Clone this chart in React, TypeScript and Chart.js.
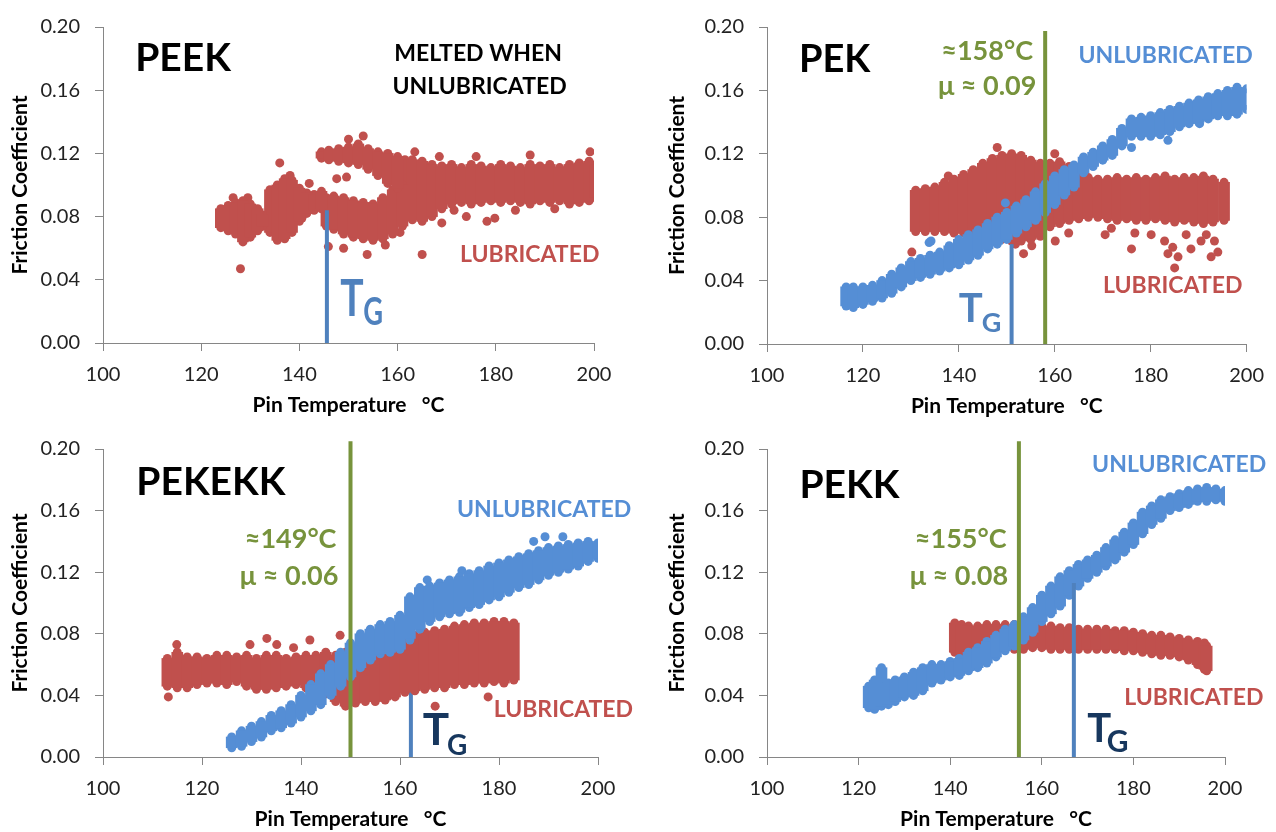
import React, { useEffect, useRef } from 'react';
import { Chart, registerables } from 'chart.js';

Chart.register(...registerables);

type Col = [number, number, number]; // x, lower edge, upper edge of a dense point cloud column
type Pt = [number, number];

// ---------- axes ----------
const xTickValues = [100, 120, 140, 160, 180, 200];
const yTickLabels = ['0.00', '0.04', '0.08', '0.12', '0.16', '0.20'];
const xAxisTitle = 'Pin Temperature   °C';
const yAxisTitle = 'Friction Coefficient';

// ---------- PEEK (lubricated only) ----------
const peekLubA: Col[] = [
  [124.0, 0.073, 0.085], [125.5, 0.071, 0.087], [127.0, 0.069, 0.089], [128.5, 0.064, 0.090],
  [130.0, 0.067, 0.088], [131.5, 0.071, 0.085], [132.5, 0.074, 0.081],
];
const peekLubB: Col[] = [
  [134.0, 0.070, 0.097], [135.5, 0.065, 0.100], [137.0, 0.066, 0.104], [138.5, 0.070, 0.103],
  [140.0, 0.077, 0.098], [141.5, 0.082, 0.095], [143.0, 0.084, 0.094], [144.5, 0.085, 0.096],
];
const peekLubC: Col[] = [
  [144.5, 0.117, 0.121], [146.0, 0.116, 0.122], [148.0, 0.115, 0.123], [150.0, 0.114, 0.124],
  [152.0, 0.113, 0.126], [154.0, 0.110, 0.123], [156.0, 0.106, 0.121], [158.0, 0.101, 0.120],
  [160.0, 0.098, 0.118],
];
const peekLubD: Col[] = [
  [145.5, 0.074, 0.092], [147.0, 0.072, 0.093], [149.0, 0.069, 0.092], [151.0, 0.067, 0.090],
  [153.0, 0.066, 0.089], [155.0, 0.065, 0.088], [157.0, 0.066, 0.092], [159.0, 0.069, 0.097],
  [161.0, 0.074, 0.100],
];
const peekLubE: Col[] = [
  [161.5, 0.082, 0.116], [163.0, 0.078, 0.116], [165.0, 0.077, 0.115], [167.0, 0.080, 0.113],
  [169.0, 0.085, 0.112], [171.0, 0.088, 0.113], [173.0, 0.089, 0.111], [175.0, 0.088, 0.113],
  [177.0, 0.089, 0.112], [179.0, 0.090, 0.111], [181.0, 0.089, 0.113], [183.0, 0.090, 0.112],
  [185.0, 0.089, 0.111], [187.0, 0.088, 0.113], [189.0, 0.090, 0.112], [191.0, 0.089, 0.113],
  [193.0, 0.090, 0.111], [195.0, 0.088, 0.113], [197.0, 0.089, 0.114], [199.0, 0.090, 0.115],
  [200.3, 0.092, 0.113],
];
const peekLubDots: Pt[] = [
  [128.0, 0.047], [136.0, 0.114], [138.1, 0.106], [150.0, 0.129], [153.0, 0.131], [145.9, 0.061],
  [149.0, 0.060], [153.8, 0.056], [165.0, 0.056], [169.0, 0.076], [174.0, 0.080], [178.2, 0.077],
  [179.8, 0.079], [176.0, 0.118], [187.0, 0.119], [199.2, 0.121], [147.6, 0.104], [149.6, 0.105],
  [126.5, 0.092], [129.5, 0.092], [140.5, 0.079], [142.0, 0.101], [157.5, 0.062], [160.5, 0.070],
  [171.5, 0.084], [184.0, 0.084], [192.0, 0.085], [163.5, 0.121], [168.5, 0.118],
];
const peekTgLine: Pt[] = [[145.6, 0], [145.6, 0.084]];

// ---------- PEK ----------
const pekLub: Col[] = [
  [131, 0.071, 0.097], [133, 0.071, 0.098], [135, 0.071, 0.099], [137, 0.071, 0.102],
  [139, 0.070, 0.104], [141, 0.070, 0.107], [143, 0.070, 0.110], [145, 0.069, 0.114],
  [147, 0.068, 0.117], [149, 0.066, 0.119], [151, 0.065, 0.120], [153, 0.065, 0.119],
  [155, 0.066, 0.116], [157, 0.068, 0.114], [159, 0.074, 0.114], [161, 0.076, 0.115],
  [163, 0.078, 0.112], [165, 0.079, 0.108], [167, 0.080, 0.105], [169, 0.080, 0.104],
  [171, 0.079, 0.104], [173, 0.078, 0.105], [175, 0.079, 0.104], [177, 0.078, 0.105],
  [179, 0.078, 0.104], [181, 0.079, 0.105], [183, 0.078, 0.106], [185, 0.077, 0.104],
  [187, 0.078, 0.105], [189, 0.077, 0.105], [191, 0.076, 0.106], [193, 0.077, 0.104],
  [195.3, 0.078, 0.102],
];
const pekLubDots: Pt[] = [
  [151.8, 0.063], [155.2, 0.062], [153.5, 0.057], [160.1, 0.065], [162.9, 0.070], [170.5, 0.069],
  [171.8, 0.073], [176.0, 0.060], [176.7, 0.070], [180.1, 0.069], [182.9, 0.065], [183.6, 0.057],
  [184.6, 0.061], [185.0, 0.048], [185.7, 0.055], [187.4, 0.069], [188.4, 0.060], [190.5, 0.065],
  [191.6, 0.069], [192.6, 0.055], [193.3, 0.065], [194.0, 0.058], [130.2, 0.058], [137.8, 0.106],
  [148.0, 0.124], [160.0, 0.120],
];
const pekUnlub: Col[] = [
  [116.5, 0.024, 0.036], [118, 0.023, 0.036], [120, 0.025, 0.036], [122, 0.027, 0.037],
  [124, 0.029, 0.040], [126, 0.032, 0.044], [128, 0.036, 0.048], [130, 0.040, 0.052],
  [132, 0.042, 0.054], [134, 0.044, 0.056], [136, 0.046, 0.058], [138, 0.048, 0.062],
  [140, 0.050, 0.066], [142, 0.053, 0.069], [144, 0.056, 0.072], [146, 0.060, 0.076],
  [148, 0.063, 0.080], [150, 0.066, 0.083], [152, 0.070, 0.087], [154, 0.074, 0.091],
  [156, 0.078, 0.096], [158, 0.083, 0.101], [160, 0.088, 0.106], [162, 0.094, 0.110],
  [164, 0.099, 0.113], [166, 0.108, 0.118], [168, 0.112, 0.121], [170, 0.116, 0.125],
  [172, 0.119, 0.129], [174, 0.125, 0.136], [176, 0.131, 0.142], [178, 0.131, 0.143],
  [180, 0.131, 0.144], [182, 0.132, 0.146], [184, 0.134, 0.148], [186, 0.137, 0.150],
  [188, 0.139, 0.152], [190, 0.140, 0.154], [192, 0.142, 0.156], [194, 0.144, 0.158],
  [196, 0.144, 0.160], [198, 0.145, 0.162], [200, 0.148, 0.161],
];
const pekUnlubDots: Pt[] = [
  [133.8, 0.064], [134.2, 0.065], [149.7, 0.089], [176.0, 0.124], [183.6, 0.1285], [190.2, 0.139],
];
const pekTgLine: Pt[] = [[151, 0], [151, 0.063]];
const pekGreenLine: Pt[] = [[158, 0], [158, 0.1975]];

// ---------- PEKEKK ----------
const pekekkLub: Col[] = [
  [113, 0.046, 0.064], [115, 0.045, 0.068], [117, 0.045, 0.065], [119, 0.047, 0.065],
  [121, 0.048, 0.064], [123, 0.048, 0.066], [125, 0.047, 0.066], [127, 0.049, 0.065],
  [129, 0.046, 0.066], [131, 0.044, 0.064], [133, 0.044, 0.066], [135, 0.045, 0.066],
  [137, 0.046, 0.064], [139, 0.047, 0.065], [141, 0.045, 0.066], [143, 0.044, 0.066],
  [145, 0.041, 0.068], [147, 0.036, 0.066], [149, 0.033, 0.068], [151, 0.035, 0.066],
  [153, 0.036, 0.066], [155, 0.036, 0.067], [157, 0.037, 0.070], [159, 0.039, 0.071],
  [161, 0.042, 0.074], [163, 0.043, 0.079], [165, 0.044, 0.081], [167, 0.045, 0.082],
  [169, 0.045, 0.083], [171, 0.047, 0.085], [173, 0.047, 0.086], [175, 0.048, 0.087],
  [177, 0.048, 0.087], [179, 0.049, 0.088], [181, 0.048, 0.088], [183, 0.050, 0.087],
];
const pekekkLubDots: Pt[] = [
  [113.2, 0.039], [114.9, 0.073], [129.7, 0.073], [133.1, 0.077], [135.1, 0.073], [141.8, 0.076],
  [147.9, 0.079], [167.1, 0.033], [177.8, 0.039], [138.5, 0.071], [157.0, 0.082],
];
const pekekkUnlub: Col[] = [
  [126, 0.006, 0.013], [128, 0.007, 0.017], [130, 0.010, 0.020], [132, 0.013, 0.023],
  [134, 0.017, 0.027], [136, 0.019, 0.030], [138, 0.022, 0.034], [140, 0.026, 0.040],
  [142, 0.030, 0.047], [144, 0.034, 0.054], [146, 0.040, 0.060], [148, 0.046, 0.068],
  [150, 0.052, 0.074], [152, 0.058, 0.080], [154, 0.063, 0.083], [156, 0.067, 0.086],
  [158, 0.068, 0.088], [160, 0.070, 0.092], [162, 0.077, 0.104], [164, 0.083, 0.110],
  [166, 0.088, 0.111], [168, 0.091, 0.113], [170, 0.093, 0.115], [172, 0.094, 0.117],
  [174, 0.097, 0.119], [176, 0.099, 0.121], [178, 0.102, 0.124], [180, 0.104, 0.126],
  [182, 0.107, 0.128], [184, 0.110, 0.130], [186, 0.112, 0.132], [188, 0.115, 0.134],
  [190, 0.118, 0.136], [192, 0.120, 0.137], [194, 0.122, 0.138], [196, 0.124, 0.139],
  [198, 0.127, 0.140], [200, 0.129, 0.139],
];
const pekekkUnlubDots: Pt[] = [
  [162.0, 0.076], [189.3, 0.143], [192.9, 0.143], [187.0, 0.140], [172.5, 0.121], [165.5, 0.115],
];
const pekekkTgLine: Pt[] = [[162.2, 0], [162.2, 0.09]];
const pekekkGreenLine: Pt[] = [[150, 0], [150, 0.205]];

// ---------- PEKK ----------
const pekkLub: Col[] = [
  [141, 0.068, 0.087], [142.5, 0.065, 0.086], [144, 0.070, 0.085], [146, 0.071, 0.085],
  [148, 0.071, 0.086], [150, 0.071, 0.086], [152, 0.071, 0.086], [154, 0.070, 0.086],
  [156, 0.070, 0.085], [158, 0.071, 0.085], [160, 0.071, 0.085], [162, 0.070, 0.085],
  [164, 0.070, 0.084], [166, 0.070, 0.084], [168, 0.070, 0.083], [170, 0.070, 0.083],
  [172, 0.070, 0.083], [174, 0.070, 0.083], [176, 0.070, 0.082], [178, 0.069, 0.082],
  [180, 0.069, 0.081], [182, 0.068, 0.080], [184, 0.067, 0.079], [186, 0.066, 0.079],
  [188, 0.066, 0.078], [190, 0.065, 0.077], [192, 0.063, 0.076], [194, 0.060, 0.075],
  [195.5, 0.057, 0.074], [196, 0.056, 0.072],
];
const pekkUnlub: Col[] = [
  [122.2, 0.032, 0.046], [123.5, 0.031, 0.050], [125, 0.033, 0.058], [126.5, 0.034, 0.048],
  [128, 0.036, 0.050], [130, 0.039, 0.052], [132, 0.040, 0.055], [134, 0.043, 0.058],
  [136, 0.048, 0.060], [138, 0.050, 0.060], [140, 0.052, 0.062], [142, 0.053, 0.064],
  [144, 0.056, 0.068], [146, 0.058, 0.071], [148, 0.061, 0.075], [150, 0.065, 0.079],
  [152, 0.069, 0.083], [154, 0.072, 0.086], [156, 0.076, 0.091], [158, 0.081, 0.097],
  [160, 0.088, 0.105], [162, 0.093, 0.111], [164, 0.098, 0.117], [166, 0.105, 0.121],
  [168, 0.111, 0.125], [170, 0.116, 0.128], [172, 0.120, 0.131], [174, 0.124, 0.136],
  [176, 0.128, 0.141], [178, 0.133, 0.146], [180, 0.138, 0.152], [182, 0.145, 0.159],
  [184, 0.151, 0.163], [186, 0.155, 0.167], [188, 0.160, 0.169], [190, 0.162, 0.171],
  [192, 0.164, 0.173], [194, 0.166, 0.174], [196, 0.166, 0.175], [198, 0.167, 0.174],
  [200, 0.166, 0.173],
];
const pekkTgLine: Pt[] = [[167, 0], [167, 0.113]];
const pekkGreenLine: Pt[] = [[155, 0], [155, 0.205]];

// ---------- styling ----------
const RED = '#C0504D';
const BLUE = '#558ED5';
const TG_BLUE = '#4F81BD';
const NAVY = '#17375E';
const GREEN = '#77933C';
const AXIS = '#868686';
const FONT = 'Lato, "Open Sans", sans-serif';
const R = 4.5;

const toXY = (pts: Pt[]) => pts.map((p) => ({ x: p[0], y: p[1] }));

function dots(pts: Pt[], color: string, order: number): any {
  return {
    type: 'line', data: toXY(pts), showLine: false, pointRadius: R, pointBackgroundColor: color,
    pointBorderWidth: 0, borderColor: color, backgroundColor: color, order, fill: false,
  };
}
// dense cloud: solid core between the column edges (floating bars) + edge points
function band(cols: Col[], color: string, order: number): any[] {
  return [
    {
      type: 'bar', data: cols.map((c) => ({ x: c[0], y: [c[1], c[2]] })), backgroundColor: color,
      borderWidth: 0, barThickness: 11, grouped: false, order,
    },
    dots(cols.map((c) => [c[0], c[2]] as Pt), color, order),
    dots(cols.map((c) => [c[0], c[1]] as Pt), color, order),
  ];
}
function vline(pts: Pt[], color: string, order: number): any {
  return {
    type: 'line', data: toXY(pts), showLine: true, borderColor: color, borderWidth: 4, pointRadius: 0,
    fill: false, clip: false, order, borderCapStyle: 'butt',
  };
}

interface TextItem { t: string; x: number; y: number; size: number; color: string; left?: boolean; sx?: number }
interface Panel {
  left: number; top: number; w: number; h: number;
  area: { l: number; t: number; r: number; b: number };
  yTitleX: number;
  datasets: any[];
  texts: TextItem[];
}

const panels: Panel[] = [
  {
    left: 0, top: 0, w: 638, h: 420, area: { l: 103, t: 20, r: 594, b: 343 }, yTitleX: 20,
    datasets: [
      vline(peekTgLine, TG_BLUE, 0),
      ...band(peekLubA, RED, 2), ...band(peekLubB, RED, 2), ...band(peekLubC, RED, 2),
      ...band(peekLubD, RED, 2), ...band(peekLubE, RED, 2), dots(peekLubDots, RED, 2),
    ],
    texts: [
      { t: 'PEEK', x: 116.3, y: 0.1721, size: 39, color: '#000' },
      { t: 'MELTED WHEN', x: 176.4, y: 0.1783, size: 23, color: '#000' },
      { t: 'UNLUBRICATED', x: 176.7, y: 0.1579, size: 23, color: '#000' },
      { t: 'LUBRICATED', x: 186.9, y: 0.0514, size: 23, color: RED },
      { t: 'T', x: 148.3, y: 0.0173, size: 52, color: TG_BLUE, left: true, sx: 0.75 },
      { t: 'G', x: 153.0, y: 0.0111, size: 39, color: TG_BLUE, left: true, sx: 0.7 },
    ],
  },
  {
    left: 638, top: 0, w: 638, h: 420, area: { l: 129, t: 24, r: 611, b: 344 }, yTitleX: 39,
    datasets: [
      vline(pekGreenLine, GREEN, 0), vline(pekTgLine, TG_BLUE, 0),
      ...band(pekUnlub, BLUE, 1), dots(pekUnlubDots, BLUE, 1),
      ...band(pekLub, RED, 2), dots(pekLubDots, RED, 2),
    ],
    texts: [
      { t: 'PEK', x: 114.1, y: 0.1713, size: 38, color: '#000' },
      { t: '≈158°C', x: 145.9, y: 0.1794, size: 27, color: GREEN },
      { t: 'μ ≈ 0.09', x: 145.9, y: 0.1569, size: 27, color: GREEN },
      { t: 'UNLUBRICATED', x: 183.1, y: 0.1775, size: 23, color: BLUE },
      { t: 'LUBRICATED', x: 184.6, y: 0.0319, size: 23, color: RED },
      { t: 'T', x: 140.0, y: 0.01375, size: 40, color: TG_BLUE, left: true },
      { t: 'G', x: 144.8, y: 0.0075, size: 27, color: TG_BLUE, left: true },
    ],
  },
  {
    left: 0, top: 420, w: 638, h: 412, area: { l: 103, t: 29, r: 598, b: 337 }, yTitleX: 20,
    datasets: [
      vline(pekekkGreenLine, GREEN, 0),
      ...band(pekekkUnlub, BLUE, 1), dots(pekekkUnlubDots, BLUE, 1),
      ...band(pekekkLub, RED, 2), dots(pekekkLubDots, RED, 2),
      vline(pekekkTgLine, TG_BLUE, 3),
    ],
    texts: [
      { t: 'PEKEKK', x: 121.8, y: 0.1701, size: 39, color: '#000' },
      { t: '≈149°C', x: 137.9, y: 0.1357, size: 27, color: GREEN },
      { t: 'μ ≈ 0.06', x: 137.6, y: 0.1117, size: 27, color: GREEN },
      { t: 'UNLUBRICATED', x: 189.1, y: 0.1558, size: 23, color: BLUE },
      { t: 'LUBRICATED', x: 193.0, y: 0.026, size: 23, color: RED },
      { t: 'T', x: 164.6, y: 0.0078, size: 44, color: NAVY, left: true },
      { t: 'G', x: 169.5, y: 0.0013, size: 28, color: NAVY, left: true },
    ],
  },
  {
    left: 638, top: 420, w: 638, h: 412, area: { l: 129, t: 29, r: 587, b: 337 }, yTitleX: 39,
    datasets: [
      vline(pekkGreenLine, GREEN, 0), vline(pekkTgLine, TG_BLUE, 0),
      ...band(pekkUnlub, BLUE, 1),
      ...band(pekkLub, RED, 2),
    ],
    texts: [
      { t: 'PEKK', x: 118.0, y: 0.1682, size: 39, color: '#000' },
      { t: '≈155°C', x: 142.3, y: 0.1357, size: 27, color: GREEN },
      { t: 'μ ≈ 0.08', x: 141.9, y: 0.1117, size: 27, color: GREEN },
      { t: 'UNLUBRICATED', x: 190.0, y: 0.1851, size: 23, color: BLUE },
      { t: 'LUBRICATED', x: 193.2, y: 0.0338, size: 23, color: RED },
      { t: 'T', x: 169.9, y: 0.0097, size: 40, color: NAVY, left: true },
      { t: 'G', x: 174.2, y: 0.0032, size: 30, color: NAVY, left: true },
    ],
  },
];

function textPlugin(p: Panel) {
  return {
    id: 'panelText',
    afterDraw(chart: any) {
      const { ctx, chartArea: a } = chart;
      const xs = chart.scales.x;
      const ys = chart.scales.y;
      ctx.save();
      ctx.fillStyle = '#000';
      ctx.font = `bold 21px ${FONT}`;
      ctx.textAlign = 'center';
      ctx.textBaseline = 'middle';
      ctx.fillText(xAxisTitle, (a.left + a.right) / 2, a.bottom + 62);
      ctx.save();
      ctx.translate(p.yTitleX, (a.top + a.bottom) / 2);
      ctx.rotate(-Math.PI / 2);
      ctx.fillText(yAxisTitle, 0, 0);
      ctx.restore();
      for (const t of p.texts) {
        ctx.save();
        ctx.translate(xs.getPixelForValue(t.x), ys.getPixelForValue(t.y));
        ctx.scale(t.sx ?? 1, 1);
        ctx.font = `bold ${t.size}px ${FONT}`;
        ctx.fillStyle = t.color;
        ctx.textAlign = t.left ? 'left' : 'center';
        ctx.textBaseline = 'alphabetic';
        ctx.fillText(t.t, 0, 0);
        ctx.restore();
      }
      ctx.restore();
    },
  };
}

function buildConfig(p: Panel): any {
  const tickFont = { family: FONT, size: 20 };
  const grid = { drawOnChartArea: false, drawTicks: true, color: AXIS, tickLength: 8, lineWidth: 1, offset: false };
  return {
    type: 'line',
    data: { datasets: p.datasets },
    options: {
      responsive: false,
      animation: false,
      events: [],
      layout: { padding: { left: 0, top: p.area.t, right: p.w - p.area.r, bottom: 0 } },
      plugins: { legend: { display: false }, tooltip: { enabled: false } },
      scales: {
        x: {
          type: 'linear', min: 100, max: 200, offset: false,
          afterBuildTicks: (s: any) => { s.ticks = xTickValues.map((v) => ({ value: v })); },
          ticks: { color: '#222', font: tickFont, padding: 12, maxRotation: 0, autoSkip: false, callback: (v: number) => String(v) },
          grid, border: { color: AXIS, width: 1 },
          afterFit: (s: any) => { s.height = p.h - p.area.b; },
        },
        y: {
          type: 'linear', min: 0, max: 0.2, beginAtZero: false,
          afterBuildTicks: (s: any) => { s.ticks = yTickLabels.map((l) => ({ value: parseFloat(l) })); },
          ticks: { color: '#222', font: tickFont, padding: 15, autoSkip: false, callback: (_v: number, i: number) => yTickLabels[i] },
          grid, border: { color: AXIS, width: 1 },
          afterFit: (s: any) => { s.width = p.area.l; },
        },
      },
    },
    plugins: [textPlugin(p)],
  };
}

export default function App() {
  const refs = useRef<(HTMLCanvasElement | null)[]>([]);
  useEffect(() => {
    const charts = panels.map((p, i) => new Chart(refs.current[i] as HTMLCanvasElement, buildConfig(p)));
    return () => charts.forEach((c) => c.destroy());
  }, []);
  return (
    <div style={{ position: 'absolute', left: 0, top: 0, width: 1276, height: 832, background: '#fff' }}>
      {panels.map((p, i) => (
        <canvas
          key={i}
          ref={(el) => { refs.current[i] = el; }}
          width={p.w}
          height={p.h}
          style={{ position: 'absolute', left: p.left, top: p.top, width: p.w, height: p.h }}
        />
      ))}
    </div>
  );
}
